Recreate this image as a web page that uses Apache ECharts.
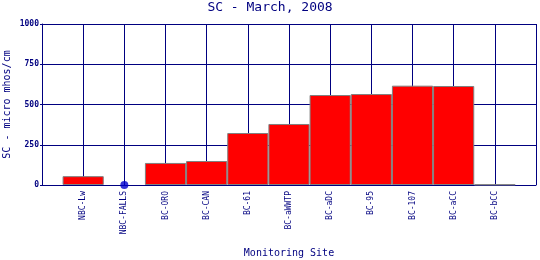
<!DOCTYPE html>
<html>
<head>
<meta charset="utf-8">
<script src="https://cdn.jsdelivr.net/npm/echarts@6/dist/echarts.min.js"></script>
<style>html,body{margin:0;padding:0;background:#fff}#c{width:540px;height:260px}</style>
</head>
<body>
<div id="c"></div>
<script>
const sites = ['NBC-Lw','NBC-FALLS','BC-ORO','BC-CAN','BC-61','BC-aWWTP','BC-aDC','BC-95','BC-107','BC-aCC','BC-bCC'];
const scValues = [55, null, 137, 149, 323, 379, 559, 565, 617, 615, 3];
const zeroMarkers = [null, 0, null, null, null, null, null, null, null, null, null];
const yTicks = [0, 250, 500, 750, 1000];

const navy = '#000080';
const font = 'DejaVu Sans Mono';
const axisCats = [''].concat(sites, ['']);
const pad = arr => [null].concat(arr, [null]);

const chart = echarts.init(document.getElementById('c'), null, {renderer: 'canvas'});
chart.setOption({
  animation: false,
  backgroundColor: '#fff',
  title: {
    text: 'SC - March, 2008', left: 'center', top: 1, padding: 0,
    textStyle: {color: navy, fontFamily: font, fontSize: 13, fontWeight: 'normal'}
  },
  grid: {left: 42, right: 4, top: 24, bottom: 75, containLabel: false, outerBoundsMode: 'none'},
  xAxis: {
    type: 'category', data: axisCats, boundaryGap: false,
    name: 'Monitoring Site', nameLocation: 'middle', nameGap: 63, nameMoveOverlap: false,
    nameTextStyle: {color: navy, fontFamily: font, fontSize: 10},
    axisLine: {lineStyle: {color: navy, width: 1}},
    axisTick: {show: false},
    axisLabel: {rotate: 90, interval: 0, color: navy, fontFamily: font, fontSize: 8, margin: 6},
    splitLine: {show: true, lineStyle: {color: navy, width: 1}}
  },
  yAxis: {
    type: 'value', min: yTicks[0], max: yTicks[yTicks.length-1], interval: 250,
    name: 'SC - micro mhos/cm', nameLocation: 'middle', nameGap: 30, nameMoveOverlap: false,
    nameTextStyle: {color: navy, fontFamily: font, fontSize: 10},
    axisLine: {show: true, lineStyle: {color: navy, width: 1}},
    axisTick: {show: true, length: 2, lineStyle: {color: navy}},
    axisLabel: {color: navy, fontFamily: font, fontSize: 8, fontWeight: 'bold', margin: 3,
      formatter: v => String(v)},
    splitLine: {show: true, lineStyle: {color: navy, width: 1}}
  },
  series: [
    {
      type: 'bar', data: pad(scValues), barWidth: '100%', barGap: '-100%',
      itemStyle: {color: '#ff0000', borderColor: '#808080', borderWidth: 1},
      z: 3
    },
    {
      type: 'scatter', data: pad(zeroMarkers), symbol: 'circle', symbolSize: 8,
      itemStyle: {color: '#0000cc'}, z: 5
    }
  ]
});
</script>
</body>
</html>
